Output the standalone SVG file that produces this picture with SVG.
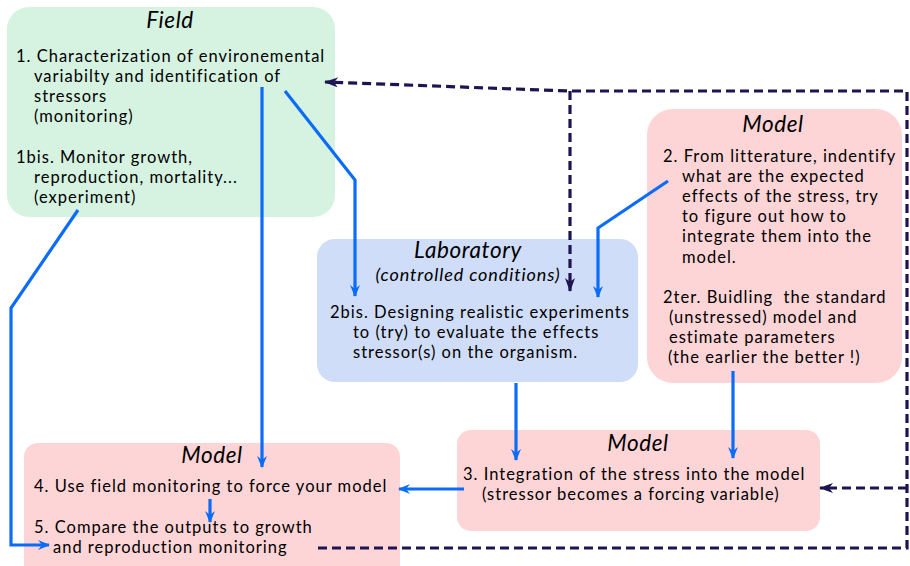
<svg xmlns="http://www.w3.org/2000/svg" width="910" height="566" viewBox="0 0 910 566">
<defs>
<style>
text{font-family:Lato,"Open Sans","DejaVu Sans",sans-serif;font-size:16.5px;letter-spacing:1px;fill:#000}
.t{font-style:italic;font-size:22.5px;letter-spacing:0.6px;text-anchor:middle}
.s{font-style:italic;font-size:18px;letter-spacing:0.9px;text-anchor:middle}
.b{fill:none;stroke:#0a6cf8;stroke-width:3.2}
.d{fill:none;stroke:#1f1452;stroke-width:3.2;stroke-dasharray:9 5}
</style>
<marker id="ab" viewBox="0 0 12 10" refX="11" refY="5" markerWidth="12" markerHeight="10" markerUnits="userSpaceOnUse" orient="auto">
<path d="M0,0 L12,5 L0,10 L4,5 Z" fill="#0a6cf8"/>
</marker>
<marker id="ad" viewBox="0 0 14 10" refX="13" refY="5" markerWidth="14" markerHeight="10" markerUnits="userSpaceOnUse" orient="auto">
<path d="M0,0 L14,5 L0,10 L4,5 Z" fill="#1f1452"/>
</marker>
</defs>
<rect width="910" height="566" fill="#fff"/>
<g id="field">
<rect x="7" y="7" width="328" height="210" rx="22" fill="#d6f2e1"/>
<text class="t" x="170" y="28">Field</text>
<text x="16" y="62">1. Characterization of environemental</text>
<text x="34" y="82">variabilty and identification of</text>
<text x="34" y="102">stressors</text>
<text x="34" y="122">(monitoring)</text>
<text x="16" y="163">1bis. Monitor growth,</text>
<text x="34" y="183">reproduction, mortality...</text>
<text x="34" y="203">(experiment)</text>
</g>
<g id="model2">
<rect x="647" y="109" width="255" height="274" rx="26" fill="#fdd5d6"/>
<text class="t" x="773" y="132">Model</text>
<text x="663" y="162">2. From litterature, indentify</text>
<text x="682" y="182">what are the expected</text>
<text x="682" y="202">effects of the stress, try</text>
<text x="682" y="222">to figure out how to</text>
<text x="682" y="242">integrate them into the</text>
<text x="682" y="263">model.</text>
<text x="663" y="303">2ter. Buidling&#160; the standard</text>
<text x="669" y="323">(unstressed) model and</text>
<text x="669" y="343">estimate parameters</text>
<text x="668" y="363">(the earlier the better !)</text>
</g>
<g id="lab">
<rect x="317" y="239" width="321" height="143" rx="18" fill="#d0ddf8"/>
<text class="t" x="468" y="258">Laboratory</text>
<text class="s" x="468" y="281">(controlled conditions)</text>
<text x="330" y="318">2bis. Designing realistic experiments</text>
<text x="353" y="338">to (try) to evaluate the effects</text>
<text x="353" y="358">stressor(s) on the organism.</text>
</g>
<g id="model3">
<rect x="457" y="430" width="363" height="101" rx="14" fill="#fdd5d6"/>
<text class="t" x="638" y="451">Model</text>
<text x="463" y="480">3. Integration of the stress into the model</text>
<text x="482" y="500">(stressor becomes a forcing variable)</text>
</g>
<g id="model45">
<rect x="24" y="443" width="376" height="135" rx="14" fill="#fdd5d6"/>
<text class="t" x="212" y="463">Model</text>
<text x="34" y="492">4. Use field monitoring to force your model</text>
<text x="34" y="533">5. Compare the outputs to growth</text>
<text x="53" y="553">and reproduction monitoring</text>
</g>
<g id="connectors">
<path class="b" d="M262,87 V467" marker-end="url(#ab)"/>
<path class="b" d="M285,91 L355,180 V296" marker-end="url(#ab)"/>
<path class="b" d="M668,181 L598,228 V297" marker-end="url(#ab)"/>
<path class="b" d="M78,210 L11,308 V545 H49" marker-end="url(#ab)"/>
<path class="b" d="M516,383 V460" marker-end="url(#ab)"/>
<path class="b" d="M733,371 V458" marker-end="url(#ab)"/>
<path class="b" d="M464,489 H399" marker-end="url(#ab)"/>
<path class="b" d="M210,499 V522" marker-end="url(#ab)"/>
<path class="d" d="M318,548 H907 V91 H570 L325,82" marker-end="url(#ad)"/>
<path class="d" d="M570,91 V291" marker-end="url(#ad)"/>
<path class="d" d="M907,488 H820" marker-end="url(#ad)"/>
</g>
</svg>
